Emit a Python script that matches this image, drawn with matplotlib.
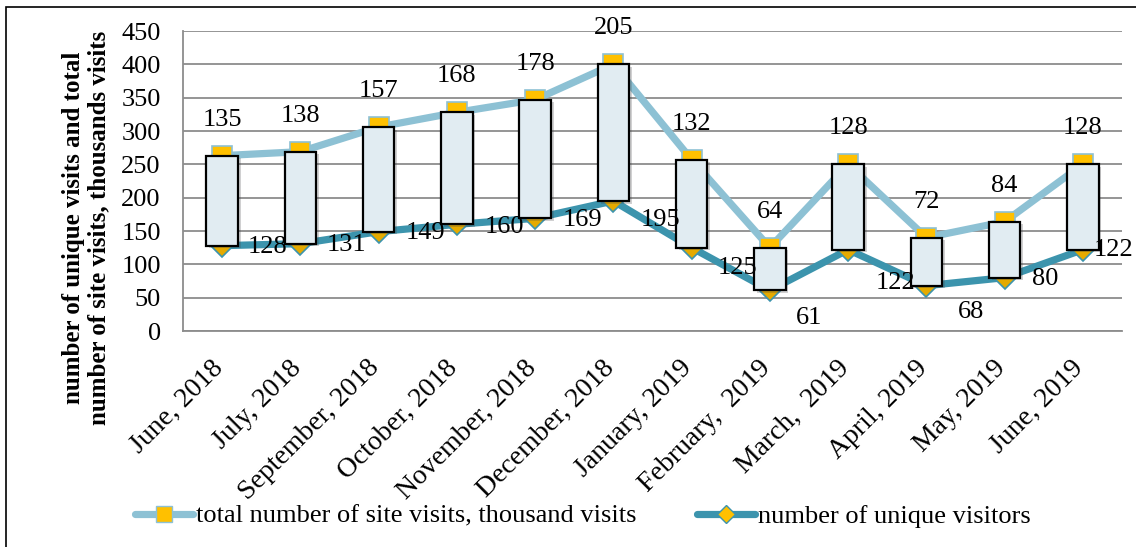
import matplotlib
matplotlib.use("Agg")
import matplotlib.pyplot as plt
import matplotlib.patches as mpatches
import matplotlib.transforms as mtrans
from matplotlib.lines import Line2D
import matplotlib.patheffects as pe
import numpy as np

# ---- data ----
months = ["June, 2018", "July, 2018", "September, 2018", "October, 2018",
          "November, 2018", "December, 2018", "January, 2019", "February,  2019",
          "March,  2019", "April, 2019", "May, 2019", "June, 2019"]
unique_visitors = [128, 131, 149, 160, 169, 195, 125, 61, 122, 68, 80, 122]
total_visits = [135, 138, 157, 168, 178, 205, 132, 64, 128, 72, 84, 128]

series_names = ["total number of site visits, thousand visits",
                "number of unique visitors"]
ylabel = "number of unique visits and total\nnumber of site visits, thousands visits"

# label offsets (points) for unique-visitor labels (style only)
uniq_off = [(33, -1), (33, -1), (34, -1), (34, -2), (34, -1), (34, -14),
            (33, -15), (28, -20), (34, -24), (32, -19), (29, -1), (22, 0)]

plt.rcParams['font.family'] = ['Liberation Serif', 'DejaVu Serif']

W, H = 1136, 547
FS = 19
fig = plt.figure(figsize=(W / 100, H / 100), dpi=100)
ax = fig.add_axes([183 / W, 1 - 331 / H, (1122 - 183) / W, 300 / H])

x = np.arange(len(months))
uv = np.array(unique_visitors)
stacked = uv + np.array(total_visits)

c_total = "#8DC1D4"
c_uniq = "#3C94AD"
c_yellow = "#FFC000"

ax.plot(x, stacked, color=c_total, lw=5.2, solid_capstyle='round', zorder=2,
        marker='s', markersize=14, markerfacecolor=c_yellow,
        markeredgecolor=c_total, markeredgewidth=1.2)
ax.plot(x, uv, color=c_uniq, lw=5.2, solid_capstyle='round', zorder=2,
        marker='D', markersize=11, markerfacecolor="#E5AA00",
        markeredgecolor=c_uniq, markeredgewidth=1.2)

# up-down bars
bw = 0.40
for xi, lo, hi in zip(x, uv, stacked):
    r = mpatches.Rectangle((xi - bw / 2, lo), bw, hi - lo, facecolor="#E1ECF2",
                           edgecolor="black", lw=1.6, zorder=3)
    r.set_path_effects([pe.SimplePatchShadow(offset=(2, -2), alpha=0.25), pe.Normal()])
    ax.add_patch(r)

# data labels
for xi, s, t in zip(x, stacked, total_visits):
    ax.annotate(str(t), (xi, s), xytext=(0, 26), textcoords='offset points',
                ha='center', va='center', fontsize=FS, zorder=5)
for xi, u, off in zip(x, unique_visitors, uniq_off):
    ax.annotate(str(u), (xi, u), xytext=off, textcoords='offset points',
                ha='center', va='center', fontsize=FS, zorder=5)

ax.set_xlim(-0.5, len(months) - 0.5)
ax.set_ylim(0, 450)
ax.set_yticks(np.arange(0, 451, 50))
ax.yaxis.grid(True, color="#8C8C8C", lw=1.3)
ax.set_axisbelow(True)
for sp in ["top", "right"]:
    ax.spines[sp].set_visible(False)
ax.spines["left"].set_color("#8C8C8C")
ax.spines["bottom"].set_color("#8C8C8C")
ax.spines["left"].set_linewidth(1.3)
ax.spines["bottom"].set_linewidth(1.3)
ax.tick_params(axis='y', length=0, labelsize=FS, pad=16)
ax.tick_params(axis='x', length=0, labelsize=20, pad=24)
ax.set_xticks(x)
ax.set_xticklabels(months, rotation=45, ha='right', va='center', rotation_mode='anchor')
shift = mtrans.ScaledTranslation(-3 / 100, 0, fig.dpi_scale_trans)
for lab in ax.get_xticklabels():
    lab.set_transform(lab.get_transform() + shift)

fig.text(86 / W, 1 - 228 / H, ylabel, rotation=90, ha='center', va='center',
         multialignment='center', fontsize=18, fontweight='bold', linespacing=1.1)

# legend
h1 = Line2D([], [], color=c_total, lw=5.2, solid_capstyle='round', marker='s',
            markersize=11, markerfacecolor=c_yellow, markeredgecolor=c_total)
h2 = Line2D([], [], color=c_uniq, lw=5.2, solid_capstyle='round', marker='D',
            markersize=9, markerfacecolor=c_yellow, markeredgecolor=c_uniq)
fig.legend([h1, h2], series_names, loc='center left',
           bbox_to_anchor=(135 / W, 1 - 516 / H), ncol=2, frameon=False,
           fontsize=FS, handlelength=2.2, handletextpad=0.1, columnspacing=2.3,
           borderaxespad=0, borderpad=0)

# outer border
border = mpatches.Rectangle((6 / W, -0.1), 2, 1 - 7 / H + 0.1, transform=fig.transFigure,
                            fill=False, edgecolor='black', lw=1.2)
fig.patches.append(border)

fig.savefig("out.png", dpi=100)
